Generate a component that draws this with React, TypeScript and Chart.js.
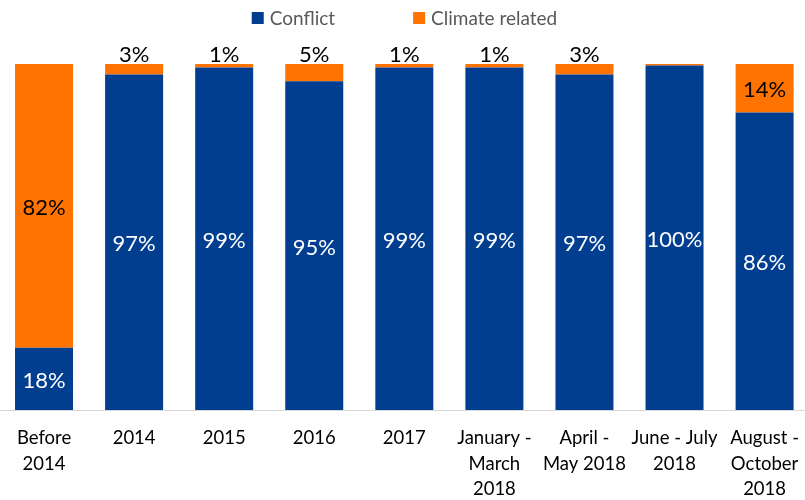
import React, { useEffect, useRef } from "react";
import { Chart, registerables } from "chart.js";

Chart.register(...registerables);

const categories: (string | string[])[] = [
  ["Before", "2014"],
  "2014",
  "2015",
  "2016",
  "2017",
  ["January -", "March", "2018"],
  ["April -", "May 2018"],
  ["June - July", "2018"],
  ["August -", "October", "2018"],
];
const conflict = [18, 97, 99, 95, 99, 99, 97, 99.6, 86];
const climate = [82, 3, 1, 5, 1, 1, 3, 0.4, 14];
const seriesNames = ["Conflict", "Climate related"];
const BLUE = "#023E90";
const ORANGE = "#FF7300";
const FONT = "Lato, 'Open Sans', sans-serif";

const legendPlugin = {
  id: "customLegend",
  afterDraw(chart: any) {
    const ctx = chart.ctx;
    const colors = [BLUE, ORANGE];
    ctx.save();
    ctx.font = `19px ${FONT}`;
    const box = 12;
    const gapText = 6;
    const gapItems = 78;
    const widths = seriesNames.map((n) => box + gapText + ctx.measureText(n).width);
    const total = widths.reduce((a, b) => a + b, 0) + gapItems;
    let x = chart.width / 2 - total / 2 - 2;
    const y = 18;
    seriesNames.forEach((n, i) => {
      ctx.fillStyle = colors[i];
      ctx.fillRect(x, y - box / 2, box, box);
      ctx.fillStyle = "#595959";
      ctx.textBaseline = "middle";
      ctx.textAlign = "left";
      ctx.fillText(n, x + box + gapText, y + 1);
      x += widths[i] + gapItems;
    });
    ctx.restore();
  },
};

const labelPlugin = {
  id: "barLabels",
  afterDatasetsDraw(chart: any) {
    const ctx = chart.ctx;
    ctx.save();
    ctx.font = `22px ${FONT}`;
    ctx.textAlign = "center";
    chart.data.datasets.forEach((ds: any, di: number) => {
      const meta = chart.getDatasetMeta(di);
      meta.data.forEach((el: any, i: number) => {
        const v = ds.data[i] as number;
        if (v < 1) return;
        const txt = Math.round(v) + "%";
        if (v >= 10) {
          ctx.fillStyle = di === 0 ? "#FFFFFF" : "#000000";
          ctx.textBaseline = "middle";
          ctx.fillText(txt, el.x, (el.y + el.base) / 2 + 2);
        } else {
          ctx.fillStyle = "#000000";
          ctx.textBaseline = "bottom";
          ctx.fillText(txt, el.x, el.y + 2);
        }
      });
    });
    ctx.restore();
  },
};

export default function App() {
  const ref = useRef<HTMLCanvasElement | null>(null);
  useEffect(() => {
    if (!ref.current) return;
    Chart.defaults.font.family = FONT;
    const chart = new Chart(ref.current, {
      type: "bar",
      data: {
        labels: categories as any,
        datasets: [
          { label: seriesNames[0], data: conflict, backgroundColor: BLUE },
          { label: seriesNames[1], data: climate, backgroundColor: ORANGE },
        ],
      },
      options: {
        responsive: false,
        animation: false,
        layout: { padding: { top: 64, left: 0, right: 0, bottom: 0 } },
        datasets: { bar: { barPercentage: 1, categoryPercentage: 0.644 } } as any,
        plugins: {
          legend: { display: false },
          tooltip: { enabled: false },
        },
        scales: {
          x: {
            stacked: true,
            grid: { display: false, drawTicks: false },
            border: { display: true, color: "#D9D9D9", width: 1 },
            afterFit: (scale: any) => {
              scale.height = 90;
            },
            ticks: {
              color: "#000000",
              padding: 15,
              maxRotation: 0,
              autoSkip: false,
              font: { size: 18.5, family: FONT, lineHeight: 1.39 },
            },
          },
          y: {
            stacked: true,
            display: false,
            min: 0,
            max: 100,
          },
        },
      },
      plugins: [legendPlugin, labelPlugin],
    });
    return () => chart.destroy();
  }, []);
  return (
    <div style={{ position: "fixed", left: -1, top: 0, width: 815, height: 500 }}>
      <canvas ref={ref} width={815} height={500} />
    </div>
  );
}
